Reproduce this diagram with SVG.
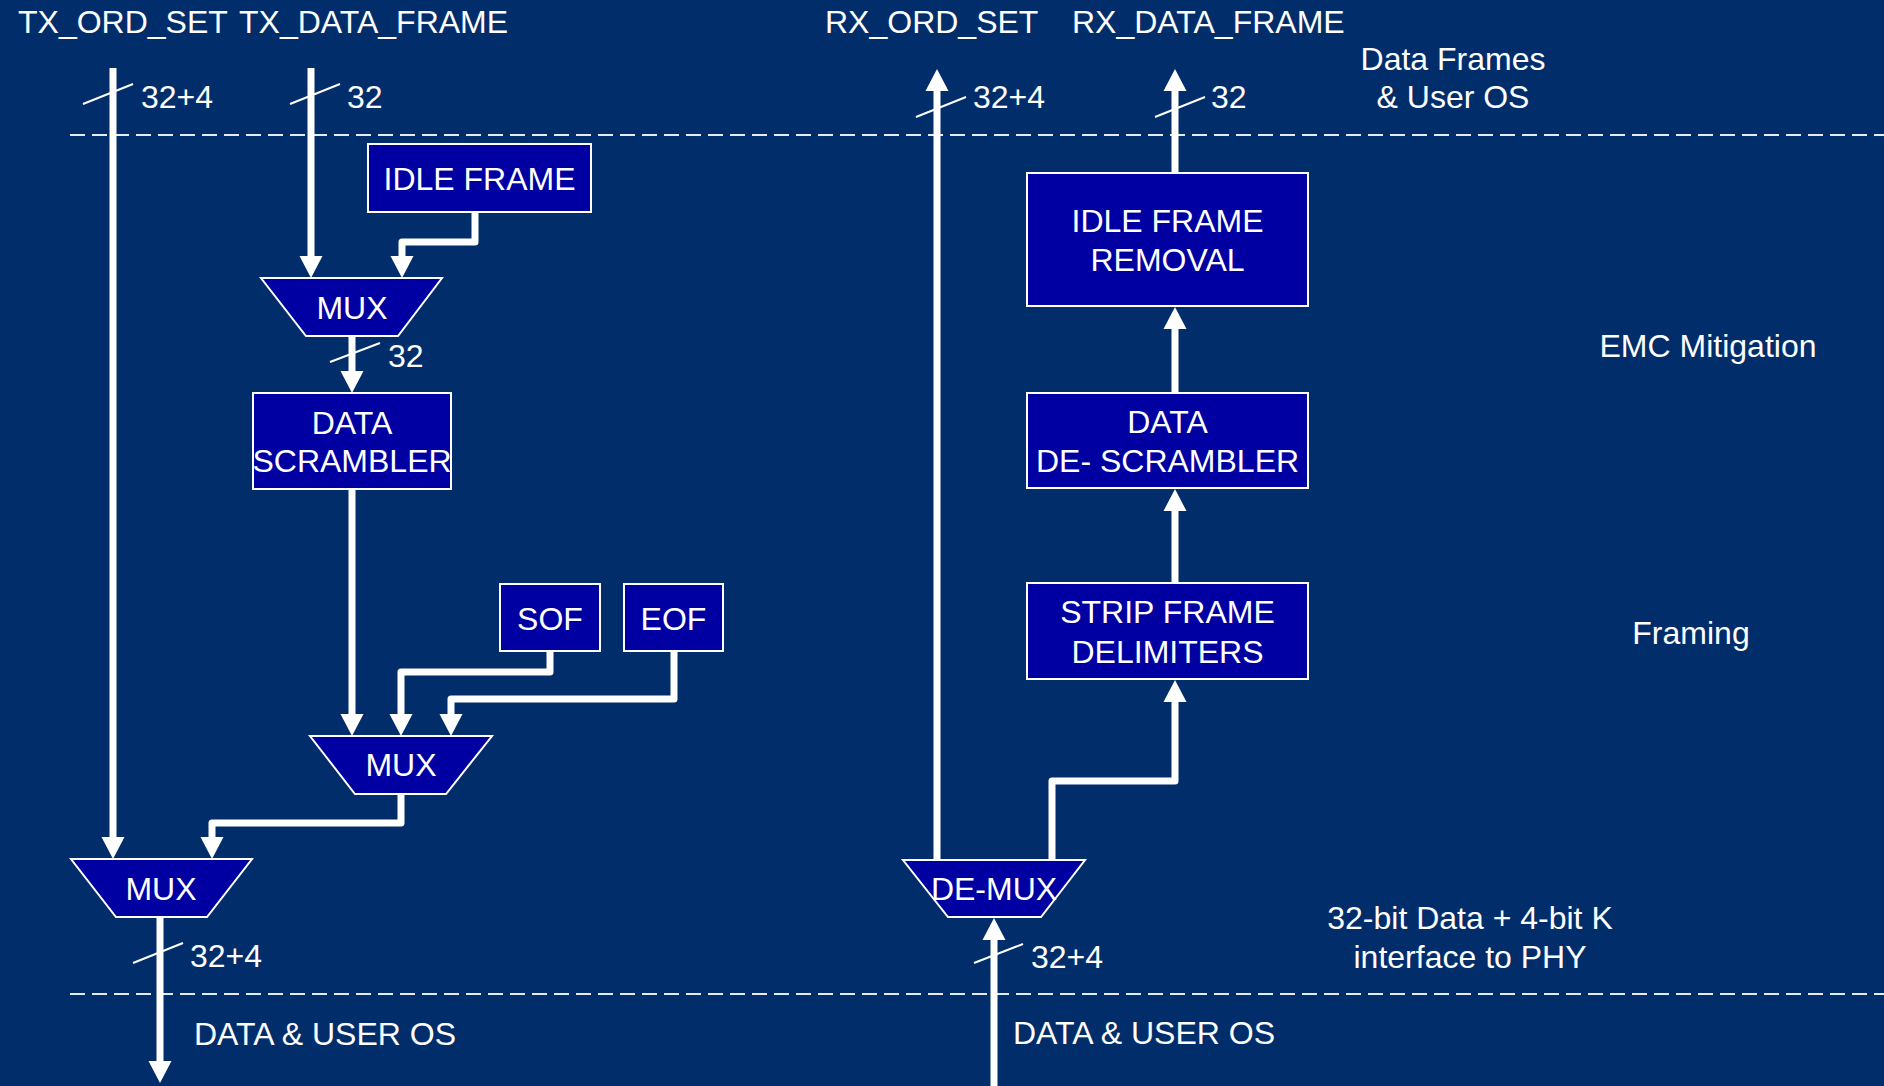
<svg xmlns="http://www.w3.org/2000/svg" width="1884" height="1086" viewBox="0 0 1884 1086">
  <style>
    text { font-family: "Liberation Sans", Arial, sans-serif; font-size: 32px; fill: #ffffff; }
    .mid { text-anchor: middle; }
    .box { fill: #0000A2; stroke: #ffffff; stroke-width: 2; }
    .wire { fill: none; stroke: #ffffff; stroke-width: 7; stroke-linejoin: round; marker-end: url(#head); }
    .bus { stroke: #ffffff; stroke-width: 2; }
    .layer { stroke: #E6EAF2; stroke-width: 2.2; stroke-dasharray: 15 7; }
  </style>
  <defs>
    <marker id="head" markerUnits="userSpaceOnUse" markerWidth="23" markerHeight="24" refX="0" refY="11.5" orient="auto" overflow="visible">
      <path d="M0,0 L22,11.5 L0,23 Z" fill="#ffffff"/>
    </marker>
  </defs>

  <rect width="1884" height="1086" fill="#012D6B"/>

  <!-- layer boundaries -->
  <line class="layer" x1="70" y1="135" x2="1884" y2="135"/>
  <line class="layer" x1="70" y1="994" x2="1884" y2="994"/>

  <!-- interface and layer labels -->
  <g id="labels">
    <text x="18" y="33">TX_ORD_SET</text>
    <text x="239" y="33">TX_DATA_FRAME</text>
    <text x="825" y="33">RX_ORD_SET</text>
    <text x="1072" y="33">RX_DATA_FRAME</text>
    <text class="mid" x="1453" y="70">Data Frames</text>
    <text class="mid" x="1453" y="108">&amp; User OS</text>
    <text class="mid" x="1708" y="357">EMC Mitigation</text>
    <text class="mid" x="1691" y="644">Framing</text>
    <text class="mid" x="1470" y="929">32-bit Data + 4-bit K</text>
    <text class="mid" x="1470" y="968">interface to PHY</text>
    <text x="194" y="1045">DATA &amp; USER OS</text>
    <text x="1013" y="1044">DATA &amp; USER OS</text>
  </g>

  <!-- data paths -->
  <g id="connectors">
    <path class="wire" d="M113,68 V837"/>
    <path class="wire" d="M311,68 V256"/>
    <path class="wire" d="M475,212 V242 H402 V256"/>
    <path class="wire" d="M352,336 V371"/>
    <path class="wire" d="M352,489 V714"/>
    <path class="wire" d="M550,651 V672 H401 V714"/>
    <path class="wire" d="M674,651 V699 H451 V714"/>
    <path class="wire" d="M401,794 V823 H212 V837"/>
    <path class="wire" d="M160,917 V1061"/>

    <path class="wire" d="M937,860 V91"/>
    <path class="wire" d="M1175,173 V91"/>
    <path class="wire" d="M1175,393 V329"/>
    <path class="wire" d="M1175,583 V511"/>
    <path class="wire" d="M1052,860 V781 H1175 V702"/>
    <path class="wire" d="M994,1086 V940"/>
  </g>

  <!-- bus width marks -->
  <g id="bus-widths">
    <line class="bus" x1="83" y1="104" x2="133" y2="84"/>
    <text x="141" y="108">32+4</text>
    <line class="bus" x1="290" y1="104" x2="340" y2="84"/>
    <text x="347" y="108">32</text>
    <line class="bus" x1="330" y1="362" x2="380" y2="343"/>
    <text x="388" y="367">32</text>
    <line class="bus" x1="133" y1="963" x2="183" y2="943"/>
    <text x="190" y="967">32+4</text>
    <line class="bus" x1="916" y1="117" x2="966" y2="97"/>
    <text x="973" y="108">32+4</text>
    <line class="bus" x1="1155" y1="117" x2="1205" y2="97"/>
    <text x="1211" y="108">32</text>
    <line class="bus" x1="974" y1="963" x2="1023" y2="944"/>
    <text x="1031" y="968">32+4</text>
  </g>

  <!-- transmit blocks -->
  <g id="idle-frame">
    <rect class="box" x="368" y="144" width="223" height="68"/>
    <text class="mid" x="479.5" y="190">IDLE FRAME</text>
  </g>
  <g id="mux-data">
    <polygon class="box" points="261,278 442,278 398,336 306,336"/>
    <text class="mid" x="352" y="319">MUX</text>
  </g>
  <g id="data-scrambler">
    <rect class="box" x="253" y="393" width="198" height="96"/>
    <text class="mid" x="352" y="434">DATA</text>
    <text class="mid" x="352" y="472">SCRAMBLER</text>
  </g>
  <g id="sof">
    <rect class="box" x="500" y="584" width="100" height="67"/>
    <text class="mid" x="550" y="630">SOF</text>
  </g>
  <g id="eof">
    <rect class="box" x="624" y="584" width="99" height="67"/>
    <text class="mid" x="673.5" y="630">EOF</text>
  </g>
  <g id="mux-framing">
    <polygon class="box" points="310,736 492,736 446,794 355,794"/>
    <text class="mid" x="401" y="776">MUX</text>
  </g>
  <g id="mux-phy">
    <polygon class="box" points="71,859 252,859 207,917 116,917"/>
    <text class="mid" x="161" y="900">MUX</text>
  </g>

  <!-- receive blocks -->
  <g id="idle-frame-removal">
    <rect class="box" x="1027" y="173" width="281" height="133"/>
    <text class="mid" x="1167.5" y="232">IDLE FRAME</text>
    <text class="mid" x="1167.5" y="271">REMOVAL</text>
  </g>
  <g id="data-descrambler">
    <rect class="box" x="1027" y="393" width="281" height="95"/>
    <text class="mid" x="1167.5" y="433">DATA</text>
    <text class="mid" x="1167.5" y="472">DE- SCRAMBLER</text>
  </g>
  <g id="strip-delimiters">
    <rect class="box" x="1027" y="583" width="281" height="96"/>
    <text class="mid" x="1167.5" y="623">STRIP FRAME</text>
    <text class="mid" x="1167.5" y="663">DELIMITERS</text>
  </g>
  <g id="demux">
    <polygon class="box" points="903,860 1085,860 1041,917 948,917"/>
    <text class="mid" x="994" y="900">DE-MUX</text>
  </g>
</svg>
